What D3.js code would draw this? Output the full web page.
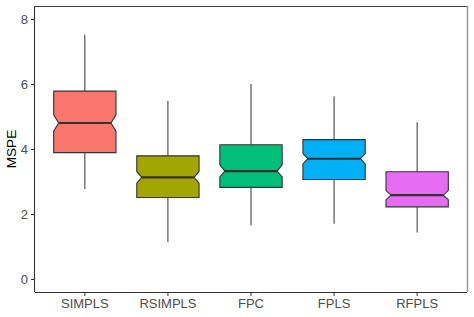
<!DOCTYPE html>
<meta charset="utf-8">
<style type="text/css">
    body { margin: 0; background: #fff; }
    svg { display: block; font-family: "Liberation Sans", Arial, sans-serif; }
</style>
<svg id="chart" width="474" height="317"></svg>
<script src="https://d3js.org/d3.v7.min.js"></script>
<script type="text/javascript">
    // values
    var methods   = ["SIMPLS", "RSIMPLS", "FPC", "FPLS", "RFPLS"];
    var whiskerLo = [2.77, 1.14, 1.65, 1.70, 1.43];
    var q1        = [3.89, 2.51, 2.82, 3.06, 2.22];
    var median    = [4.80, 3.13, 3.32, 3.70, 2.58];
    var q3        = [5.78, 3.79, 4.13, 4.29, 3.30];
    var whiskerHi = [7.52, 5.48, 6.00, 5.62, 4.82];
    var notchLo   = [4.55, 2.95, 3.14, 3.54, 2.44];
    var notchHi   = [5.05, 3.31, 3.51, 3.86, 2.72];
    var colors    = ["#F8766D", "#A3A500", "#00BF7D", "#00B0F6", "#E76BF3"];
    var yTicks    = [0, 2, 4, 6, 8];

    var boxes = methods.map((m, i) => ({
        name: m, lo: whiskerLo[i], q1: q1[i], med: median[i], q3: q3[i], hi: whiskerHi[i],
        nlo: notchLo[i], nhi: notchHi[i], color: colors[i]
    }));

    var svg = d3.select("#chart");
    // panel edges (note: "top" is taken by window.top)
    var pLeft = 35, pRight = 467, pTop = 6, pBottom = 292;

    var y = d3.scaleLinear().domain([-0.4, 8.4]).range([pBottom, pTop]);
    var x = d3.scaleBand().domain(methods).range([pLeft, pRight]).paddingOuter(0.1).paddingInner(0);
    var bw = x.bandwidth() * 0.75; // box width
    var notchW = 0.84;             // notch width relative to box

    // panel frame
    svg.append("line").attr("x1", pLeft).attr("x2", pRight).attr("y1", pTop + 0.5).attr("y2", pTop + 0.5)
        .attr("stroke", "#444").attr("stroke-width", 1);
    svg.append("line").attr("x1", pRight + 0.5).attr("x2", pRight + 0.5).attr("y1", pTop).attr("y2", pBottom)
        .attr("stroke", "#999").attr("stroke-width", 1.5);

    var g = svg.append("g");

    boxes.forEach(d => {
        var cx = x(d.name) + x.bandwidth() / 2;
        var x0 = cx - bw / 2, x1 = cx + bw / 2;
        var inset = bw / 2 * (1 - notchW);
        // whiskers
        g.append("line").attr("x1", cx).attr("x2", cx).attr("y1", y(d.hi)).attr("y2", y(d.q3))
            .attr("stroke", "#333").attr("stroke-width", 1);
        g.append("line").attr("x1", cx).attr("x2", cx).attr("y1", y(d.q1)).attr("y2", y(d.lo))
            .attr("stroke", "#333").attr("stroke-width", 1);
        // notched box
        var pts = [
            [x0, y(d.q3)], [x1, y(d.q3)], [x1, y(d.nhi)], [x1 - inset, y(d.med)], [x1, y(d.nlo)],
            [x1, y(d.q1)], [x0, y(d.q1)], [x0, y(d.nlo)], [x0 + inset, y(d.med)], [x0, y(d.nhi)]
        ];
        g.append("path").attr("d", d3.line()(pts) + "Z")
            .attr("fill", d.color).attr("stroke", "#333").attr("stroke-width", 1.1);
        g.append("line").attr("x1", x0 + inset).attr("x2", x1 - inset).attr("y1", y(d.med)).attr("y2", y(d.med))
            .attr("stroke", "#333").attr("stroke-width", 2.2);
    });

    // axes
    var yAxis = svg.append("g").attr("transform", "translate(" + pLeft + ",0)")
        .call(d3.axisLeft(y).tickValues(yTicks).tickSize(4).tickPadding(3));
    var xAxis = svg.append("g").attr("transform", "translate(0," + pBottom + ")")
        .call(d3.axisBottom(x).tickSize(4).tickPadding(3));

    [yAxis, xAxis].forEach(a => {
        a.select(".domain").attr("stroke", "#333").attr("stroke-width", 1.1);
        a.selectAll(".tick line").attr("stroke", "#333");
        a.selectAll(".tick text").attr("fill", "#4D4D4D").style("font-size", "13px");
    });
    xAxis.select(".domain").attr("d", "M" + pLeft + ",0.5H" + pRight);
    yAxis.select(".domain").attr("d", "M-0.5," + pTop + "V" + pBottom);

    svg.append("text")
        .attr("transform", "translate(16," + ((pTop + pBottom) / 2) + ") rotate(-90)")
        .attr("text-anchor", "middle")
        .style("font-size", "13.5px")
        .attr("fill", "#000")
        .text("MSPE");
</script>
